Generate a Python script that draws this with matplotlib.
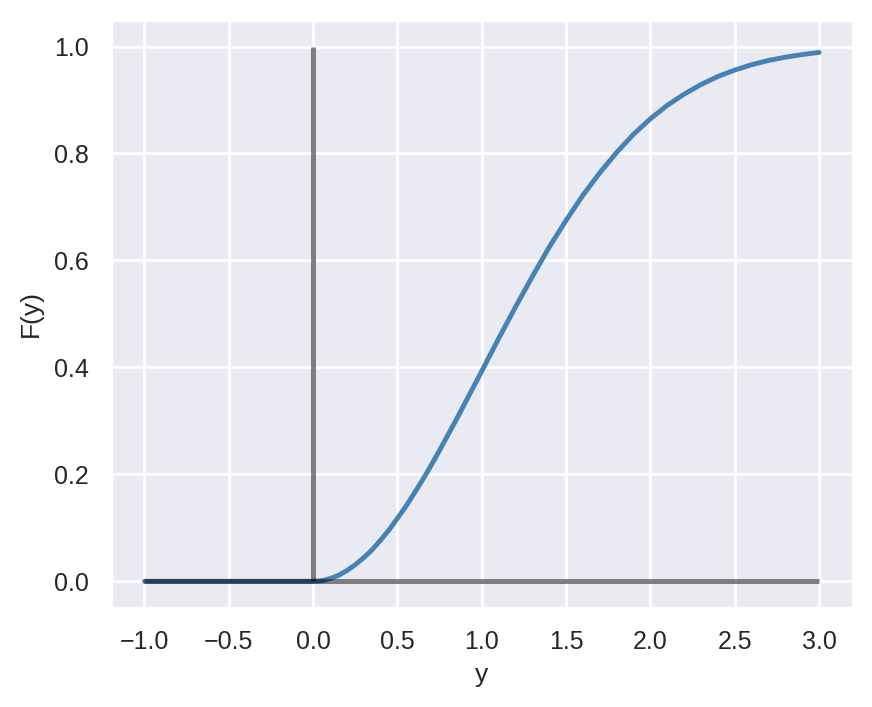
import matplotlib
matplotlib.use("Agg")
import matplotlib.pyplot as plt
import seaborn as sns

# values
y_vals = [-1.0, -0.5, 0.0, 0.05, 0.1, 0.15, 0.2, 0.25, 0.3, 0.35, 0.4, 0.45,
          0.5, 0.55, 0.6, 0.65, 0.7, 0.75, 0.8, 0.85, 0.9, 0.95, 1.0,
          1.1, 1.2, 1.3, 1.4, 1.5, 1.6, 1.7, 1.8, 1.9, 2.0, 2.1, 2.2, 2.3,
          2.4, 2.5, 2.6, 2.7, 2.8, 2.9, 3.0]
F_vals = [0.0, 0.0, 0.0, 0.001, 0.005, 0.011, 0.020, 0.031, 0.044, 0.059,
          0.077, 0.096, 0.118, 0.140, 0.165, 0.190, 0.217, 0.245, 0.274,
          0.303, 0.333, 0.363, 0.393, 0.454, 0.513, 0.570, 0.625, 0.675,
          0.722, 0.764, 0.802, 0.836, 0.865, 0.890, 0.911, 0.929, 0.944,
          0.956, 0.966, 0.974, 0.980, 0.985, 0.989]

# reference lines
hline_y, hline_from, hline_to = 0.0, -1.0, 3.0
vline_x, vline_from, vline_to = 0.0, 0.0, 1.0

sns.set_theme(style="darkgrid")
plt.rcParams['font.family'] = ['Liberation Sans', 'DejaVu Sans']

fig, ax = plt.subplots(figsize=(4.36, 3.535), dpi=200)
fig.subplots_adjust(left=0.127, right=0.978, top=0.972, bottom=0.14)
ax.plot(y_vals, F_vals, color="steelblue", lw=1.75)
ax.hlines(hline_y, hline_from, hline_to, color="black", alpha=0.5, lw=1.75)
ax.vlines(vline_x, vline_from, vline_to, color="black", alpha=0.5, lw=1.75)

ax.set_xlabel("y", fontsize=9.5, labelpad=3)
ax.set_ylabel("F(y)", fontsize=9.5, labelpad=4)
ax.tick_params(labelsize=9, pad=2)
ax.set_xticks([-1.0, -0.5, 0.0, 0.5, 1.0, 1.5, 2.0, 2.5, 3.0])

fig.savefig("out.png", dpi=200)
